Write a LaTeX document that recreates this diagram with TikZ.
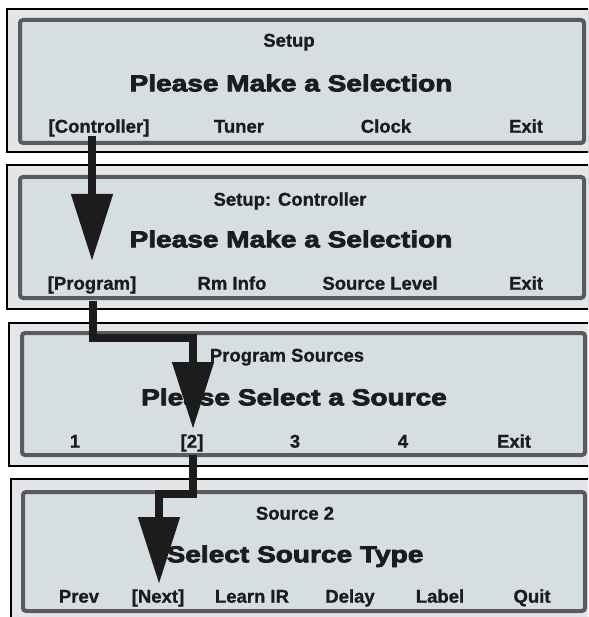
\documentclass[tikz,border=0pt]{standalone}
\usepackage{fontspec}
\setmainfont{Liberation Sans}
\newfontfamily\heavyfont{Liberation Sans Bold}[FakeStretch=1.22,FakeBold=3.5]
\newfontfamily\lblfont{Liberation Sans Bold}[FakeBold=1]
\usetikzlibrary{arrows.meta}
\definecolor{frameback}{HTML}{E4E5E9}
\definecolor{screenback}{HTML}{D7DEE2}
\definecolor{screenedge}{HTML}{595B5D}
\definecolor{ink}{HTML}{1C1C1C}
\tikzset{
  outerframe/.style={draw=black, line width=1.8pt, fill=frameback},
  screen/.style={draw=screenedge, line width=4pt, fill=screenback, rounded corners=3pt},
  lbl/.style={text=ink, font=\lblfont\fontsize{18.5}{22}\selectfont, inner sep=0pt, anchor=base, yshift=-6.7pt},
  big/.style={text=ink, font=\heavyfont\fontsize{23}{27}\selectfont, inner sep=0pt, anchor=base, yshift=-8.3pt},
  flow/.style={line width=8pt, draw=ink, miter limit=10,
    -{Triangle[length=67pt,width=40pt]}}
}
\begin{document}
\begin{tikzpicture}[x=1pt,y=-1pt]
\clip (0,0) rectangle (588,617);
\fill[white] (0,0) rectangle (588,617);
% panel 1
\draw[outerframe] (7,9) rectangle (589,152);
\draw[screen] (20,20) rectangle (584,143);
% panel 2
\draw[outerframe] (7,165) rectangle (589,309);
\draw[screen] (20,177) rectangle (584,298);
% panel 3
\draw[outerframe] (9,323) rectangle (590,466);
\draw[screen] (22,333) rectangle (585,455);
% panel 4
\draw[outerframe] (11,479) rectangle (592,630);
\draw[screen] (23,492) rectangle (585,611);

% panel 1 texts
\node[lbl] (t1) at (289,40) {Setup};
\node[big] (h1) at (291,83) {Please Make a Selection};
\node[lbl] (ctrl) at (99,126) {[Controller]};
\node[lbl] (tuner) at (239,126) {Tuner};
\node[lbl] (clock) at (386,126) {Clock};
\node[lbl] (exit1) at (526,126) {Exit};

% panel 2 texts
\node[lbl] (t2) at (290,199) {Setup: Controller};
\node[big] (h2) at (291,239) {Please Make a Selection};
\node[lbl] (prog) at (92,283) {[Program]};
\node[lbl] (rminfo) at (232,283) {Rm Info};
\node[lbl] (srclvl) at (380,283) {Source Level};
\node[lbl] (exit2) at (526,283) {Exit};

% panel 3 texts
\node[lbl] (t3) at (287,355) {Program Sources};
\node[big] (h3) at (294,397) {Please Select a Source};
\node[lbl] (one) at (75,441) {1};
\node[lbl] (two) at (192,441) {[2]};
\node[lbl] (three) at (295,441) {3};
\node[lbl] (four) at (403,441) {4};
\node[lbl] (exit3) at (514,441) {Exit};

% panel 4 texts
\node[lbl] (t4) at (295,513) {Source 2};
\node[big] (h4) at (295,554) {Select Source Type};
\node[lbl] (prev) at (79,596) {Prev};
\node[lbl] (next) at (158,596) {[Next]};
\node[lbl] (learn) at (252,596) {Learn IR};
\node[lbl] (delay) at (350,596) {Delay};
\node[lbl] (label) at (440,596) {Label};
\node[lbl] (quit) at (532,596) {Quit};

% connectors
\coordinate (a1s) at (92,136);
\coordinate (a1e) at (92,261);
\draw[flow] (a1s) -- (a1e);

\coordinate (a2s) at (93,301);
\coordinate (a2m) at (93,338);
\coordinate (a2n) at (193,338);
\coordinate (a2e) at (193,429);
\draw[flow] (a2s) -- (a2m) -- (a2n) -- (a2e);

\coordinate (a3s) at (193,455);
\coordinate (a3m) at (193,494);
\coordinate (a3n) at (159,494);
\coordinate (a3e) at (159,584);
\draw[flow] (a3s) -- (a3m) -- (a3n) -- (a3e);
\end{tikzpicture}
\end{document}
